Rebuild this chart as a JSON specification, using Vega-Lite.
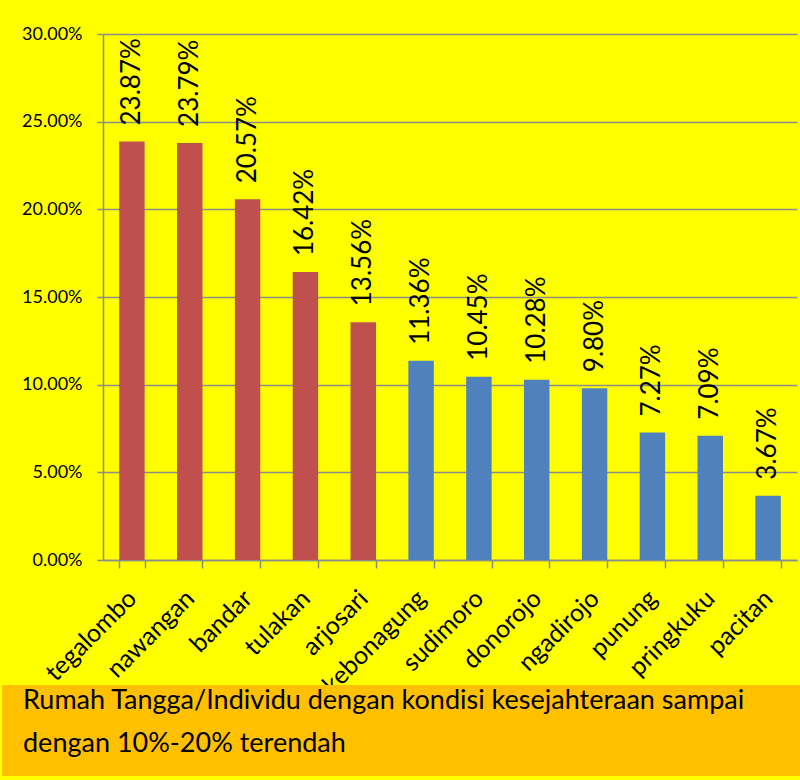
{
  "$schema": "https://vega.github.io/schema/vega-lite/v6.json",
  "background": "#FFFF00",
  "padding": {"left": 2, "top": 25, "right": 0, "bottom": 4},
  "config": {"view": {"stroke": null}, "font": "Lato"},
  "bounds": "flush",
  "spacing": 651,
  "vconcat": [
    {
      "spacing": 0,
      "hconcat": [
        {
          "width": 1,
          "height": 1,
          "data": {"values": []},
          "mark": {"type": "point", "opacity": 0},
          "encoding": {}
        },
        {
          "width": 694,
          "height": 526,
          "data": {"values": [
            {"name": "tegalombo", "value": 0.2387, "group": "top"},
            {"name": "nawangan", "value": 0.2379, "group": "top"},
            {"name": "bandar", "value": 0.2057, "group": "top"},
            {"name": "tulakan", "value": 0.1642, "group": "top"},
            {"name": "arjosari", "value": 0.1356, "group": "top"},
            {"name": "kebonagung", "value": 0.1136, "group": "rest"},
            {"name": "sudimoro", "value": 0.1045, "group": "rest"},
            {"name": "donorojo", "value": 0.1028, "group": "rest"},
            {"name": "ngadirojo", "value": 0.0980, "group": "rest"},
            {"name": "punung", "value": 0.0727, "group": "rest"},
            {"name": "pringkuku", "value": 0.0709, "group": "rest"},
            {"name": "pacitan", "value": 0.0367, "group": "rest"}
          ]},
          "encoding": {
            "x": {
              "field": "name", "type": "nominal", "sort": null,
              "scale": {"paddingInner": 0.56, "paddingOuter": 0.28},
              "axis": {
                "title": null, "labelAngle": -45, "labelAlign": "right", "labelBaseline": "middle",
                "labelFontSize": 25, "labelColor": "#000000", "labelPadding": 26,
                "tickBand": "extent", "tickSize": 8, "tickColor": "#8C8C8C", "tickWidth": 1.5,
                "domainColor": "#8C8C8C", "domainWidth": 1.5, "grid": false
              }
            },
            "y": {
              "field": "value", "type": "quantitative",
              "scale": {"domain": [0, 0.3], "nice": false},
              "axis": {
                "title": null, "values": [0, 0.05, 0.1, 0.15, 0.2, 0.25, 0.3], "format": ".2%",
                "labelFontSize": 18, "labelColor": "#000000", "labelPadding": 15,
                "tickSize": 6, "tickColor": "#8C8C8C", "tickWidth": 1.5,
                "domainColor": "#8C8C8C", "domainWidth": 1.5,
                "grid": true, "gridColor": "#8C8C8C", "gridWidth": 1.5,
                "minExtent": 100, "maxExtent": 200
              }
            }
          },
          "layer": [
            {
              "mark": {"type": "bar"},
              "encoding": {
                "color": {"field": "group", "type": "nominal",
                  "scale": {"domain": ["top", "rest"], "range": ["#C0504D", "#4F81BD"]},
                  "legend": null}
              }
            },
            {
              "mark": {"type": "text", "angle": -90, "align": "left", "baseline": "middle", "dx": 16, "fontSize": 26, "color": "#000000"},
              "encoding": {
                "text": {"field": "value", "type": "quantitative", "format": ".2%"}
              }
            }
          ]
        }
      ]
    },
    {
      "width": 798,
      "height": 91,
      "view": {"fill": "#FFC000", "stroke": null},
      "data": {"values": [
        {"line": 1, "text": "Rumah Tangga/Individu dengan kondisi kesejahteraan sampai"},
        {"line": 2, "text": "dengan 10%-20% terendah"}
      ]},
      "mark": {"type": "text", "align": "left", "baseline": "alphabetic", "fontSize": 27, "dx": 21, "color": "#000000"},
      "encoding": {
        "x": {"datum": 0, "type": "quantitative", "scale": {"domain": [0, 1]}, "axis": null},
        "y": {"field": "line", "type": "ordinal", "scale": {"type": "point", "padding": 0.55}, "axis": null},
        "text": {"field": "text"}
      }
    }
  ]
}
